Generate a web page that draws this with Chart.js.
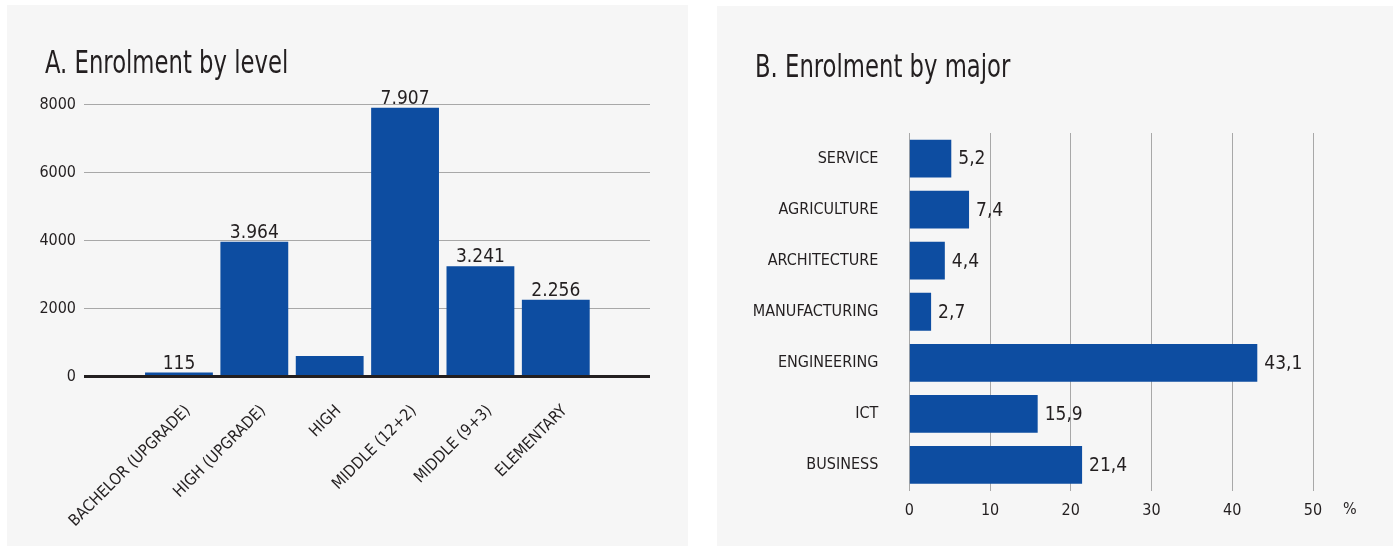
<!DOCTYPE html>
<html>
<head>
<meta charset="utf-8">
<script src="https://cdn.jsdelivr.net/npm/chart.js@4"></script>
<style>
  html, body { margin: 0; padding: 0; background: #ffffff; }
  #wrap { position: relative; width: 1393px; height: 546px; overflow: hidden; background: #ffffff; }
  .panel { position: absolute; background: #f6f6f6; }
  .title { position: absolute; font-family: "DejaVu Sans Condensed", "DejaVu Sans", sans-serif; font-size: 32px; line-height: 32px; color: #231f20; white-space: nowrap; transform-origin: 0 0; transform: scaleX(0.79); }
  canvas { position: absolute; }
</style>
</head>
<body>
<div id="wrap">
  <div class="panel" style="left:7px; top:5px; width:681px; height:541px;"></div>
  <div class="panel" style="left:717px; top:6px; width:676px; height:540px;"></div>
  <canvas id="c1" width="681" height="541" style="left:7px; top:5px;"></canvas>
  <canvas id="c2" width="676" height="540" style="left:717px; top:6px;"></canvas>
  <div class="title" style="left:45px; top:46px;">A. Enrolment by level</div>
  <div class="title" style="left:755px; top:50px;">B. Enrolment by major</div>
</div>
<script>
// ---- Data ----
const levelCategories = ["BACHELOR (UPGRADE)", "HIGH (UPGRADE)", "HIGH", "MIDDLE (12+2)", "MIDDLE (9+3)", "ELEMENTARY"];
const levelValues = [115, 3964, 600, 7907, 3241, 2256];
const levelValueShown = [true, true, false, true, true, true];
const levelTicks = [0, 2000, 4000, 6000, 8000];

const majorCategories = ["SERVICE", "AGRICULTURE", "ARCHITECTURE", "MANUFACTURING", "ENGINEERING", "ICT", "BUSINESS"];
const majorValues = [5.2, 7.4, 4.4, 2.7, 43.1, 15.9, 21.4];
const majorTicks = [0, 10, 20, 30, 40, 50];
const majorUnit = "%";

// ---- Style ----
const FONT = '"DejaVu Sans Condensed", "DejaVu Sans", sans-serif';
const TEXT = '#231f20';
const BAR = '#0d4da1';
const GRID = '#a8a8a8';

function thousands(v) { return String(v).replace(/\B(?=(\d{3})+(?!\d))/g, '.'); }
function decimalComma(v) { return v.toFixed(1).replace('.', ','); }

const barLabels = {
  id: 'barLabels',
  afterDatasetsDraw(chart, args, opts) {
    const ctx = chart.ctx;
    const meta = chart.getDatasetMeta(0);
    ctx.save();
    ctx.font = opts.font;
    ctx.fillStyle = TEXT;
    meta.data.forEach((el, i) => {
      const txt = opts.format(i);
      if (!txt) return;
      if (opts.horizontal) {
        ctx.textAlign = 'left';
        ctx.textBaseline = 'middle';
        ctx.fillText(txt, el.x + 7, el.y + 1);
      } else {
        ctx.textAlign = 'center';
        ctx.textBaseline = 'alphabetic';
        ctx.fillText(txt, el.x, el.y - 4);
      }
    });
    if (opts.unit) {
      ctx.textAlign = 'left';
      ctx.textBaseline = 'top';
      ctx.font = '16px ' + FONT;
      ctx.fillText(opts.unit, chart.chartArea.right + 30, chart.chartArea.bottom + 11);
    }
    ctx.restore();
  }
};

// ---- Chart A ----
const xMinA = -1.26, xMaxA = 6.25;
new Chart(document.getElementById('c1'), {
  type: 'bar',
  data: {
    datasets: [{
      data: levelValues.map((v, i) => ({ x: i, y: v })),
      backgroundColor: BAR,
      borderWidth: 0,
      categoryPercentage: 0.9,
      barPercentage: 1
    }]
  },
  plugins: [barLabels],
  options: {
    responsive: false,
    devicePixelRatio: 1,
    animation: false,
    layout: { padding: { left: 0, right: 38, top: 99.5, bottom: 0 } },
    plugins: {
      legend: { display: false },
      tooltip: { enabled: false },
      barLabels: {
        font: '19px ' + FONT,
        horizontal: false,
        format: i => levelValueShown[i] ? thousands(levelValues[i]) : ''
      }
    },
    scales: {
      x: {
        type: 'linear',
        offset: false,
        bounds: 'data',
        min: xMinA,
        max: xMaxA,
        afterBuildTicks: s => {
          s.ticks = levelCategories.map((c, i) => ({ value: i }));
          s.min = xMinA; s.max = xMaxA;
        },
        afterFit: s => { s.height = 169.5; },
        grid: { display: false, drawTicks: false, offset: false },
        border: { display: false },
        ticks: {
          autoSkip: false,
          minRotation: 45,
          maxRotation: 45,
          padding: 25,
          labelOffset: 9,
          color: TEXT,
          font: { family: FONT, size: 16 },
          callback: v => levelCategories[v]
        }
      },
      y: {
        min: 0,
        max: 8000,
        afterBuildTicks: s => { s.ticks = levelTicks.map(v => ({ value: v })); },
        afterFit: s => { s.width = 77; },
        border: { display: false },
        grid: {
          drawTicks: false,
          color: c => c.tick && c.tick.value === 0 ? TEXT : GRID,
          lineWidth: c => c.tick && c.tick.value === 0 ? 3 : 1
        },
        ticks: {
          padding: 8,
          color: TEXT,
          font: { family: FONT, size: 16 },
          callback: v => String(v)
        }
      }
    }
  }
});

// ---- Chart B ----
new Chart(document.getElementById('c2'), {
  type: 'bar',
  data: {
    labels: majorCategories,
    datasets: [{
      data: majorValues,
      backgroundColor: BAR,
      borderWidth: 0,
      categoryPercentage: 0.74,
      barPercentage: 1
    }]
  },
  plugins: [barLabels],
  options: {
    indexAxis: 'y',
    responsive: false,
    devicePixelRatio: 1,
    animation: false,
    layout: { padding: { left: 0, right: 80, top: 127, bottom: 0 } },
    plugins: {
      legend: { display: false },
      tooltip: { enabled: false },
      barLabels: {
        font: '19px ' + FONT,
        horizontal: true,
        unit: majorUnit,
        format: i => decimalComma(majorValues[i])
      }
    },
    scales: {
      x: {
        min: 0,
        max: 50,
        afterBuildTicks: s => { s.ticks = majorTicks.map(v => ({ value: v })); },
        afterFit: s => { s.height = 55.5; },
        border: { display: false },
        grid: { drawTicks: false, color: GRID, lineWidth: 1 },
        ticks: {
          padding: 11,
          color: TEXT,
          font: { family: FONT, size: 16 }
        }
      },
      y: {
        afterFit: s => { s.width = 192.3; },
        border: { display: false },
        grid: { display: false, drawTicks: false },
        ticks: {
          padding: 31,
          color: TEXT,
          font: { family: FONT, size: 16 }
        }
      }
    }
  }
});
</script>
</body>
</html>
